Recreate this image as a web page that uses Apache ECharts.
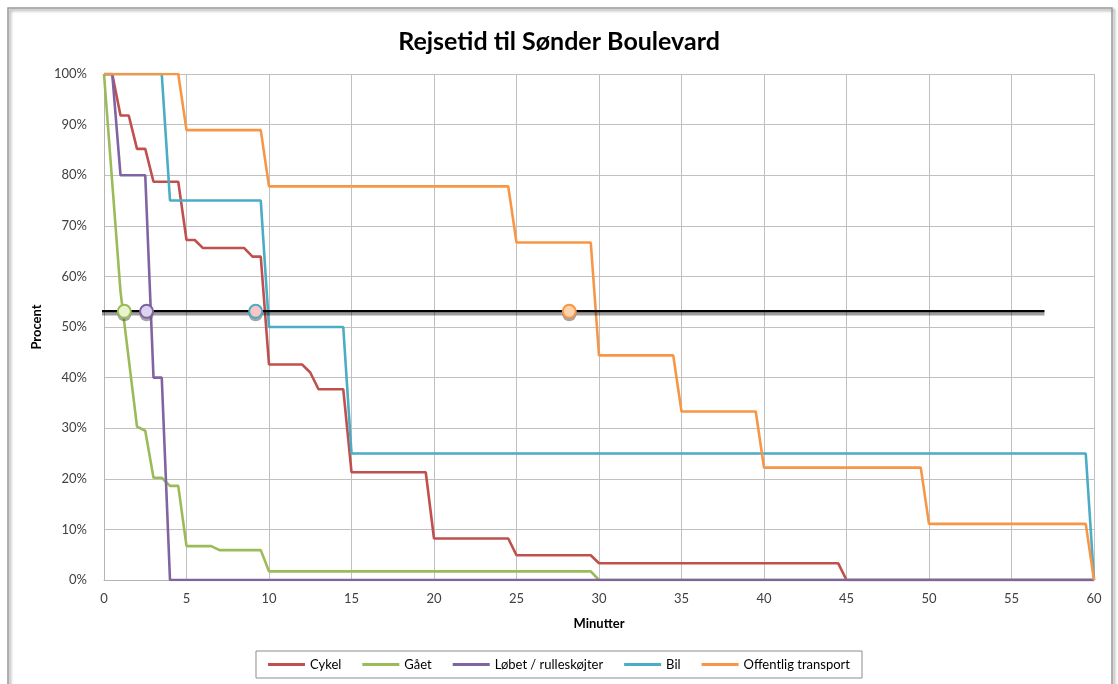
<!DOCTYPE html>
<html>
<head>
<meta charset="utf-8">
<script src="https://cdn.jsdelivr.net/npm/echarts@6/dist/echarts.min.js"></script>
<style>
html,body{margin:0;padding:0;background:#fff;}
#chart{width:1118px;height:684px;}
</style>
</head>
<body>
<div id="chart"></div>
<script>
// ---- data (minutes, percent) ----
const seriesNames = ['Cykel', 'Gået', 'Løbet / rulleskøjter', 'Bil', 'Offentlig transport'];
const cykel = [[0,100],[0.5,100],[1,91.8],[1.5,91.8],[2,85.2],[2.5,85.2],[3,78.7],[4.5,78.7],[5,67.2],[5.5,67.2],[6,65.6],[8.5,65.6],[9,63.9],[9.5,63.9],[10,42.6],[12,42.6],[12.5,41.0],[13,37.7],[14.5,37.7],[15,21.3],[19.5,21.3],[20,8.2],[24.5,8.2],[25,4.9],[29.5,4.9],[30,3.3],[44.5,3.3],[45,0],[60,0]];
const gaaet = [[0,100],[1,57],[2,30.3],[2.5,29.5],[3,20.2],[3.5,20.2],[4,18.6],[4.5,18.6],[5,6.7],[6.5,6.7],[7,5.9],[9.5,5.9],[10,1.7],[29.5,1.7],[30,0],[60,0]];
const loebet = [[0,100],[0.5,100],[1,80],[2.5,80],[3,40],[3.5,40],[4,0],[60,0]];
const bil = [[0,100],[3.5,100],[4,75],[9.5,75],[10,50],[14.5,50],[15,25],[59.5,25],[60,0]];
const offentlig = [[0,100],[4.5,100],[5,88.9],[9.5,88.9],[10,77.8],[24.5,77.8],[25,66.7],[29.5,66.7],[30,44.4],[34.5,44.4],[35,33.3],[39.5,33.3],[40,22.2],[49.5,22.2],[50,11.1],[59.5,11.1],[60,0]];
const medianLevel = 53.1;
const medianLineX = [-0.4, 57];
const medianMarkX = [1.23, 2.58, 9.19, 28.2];
const xTicks = {min: 0, max: 60, interval: 5};
const yTicks = {min: 0, max: 100, interval: 10};

const colors = ['#C0504D', '#9BBB59', '#8064A2', '#4BACC6', '#F79646'];
const markFill = ['#e8f5cc', '#dcd3ee', '#f9c6c6', '#fdd2ad'];
const markStroke = ['#9BBB59', '#8064A2', '#4BACC6', '#F79646'];
const allData = [cykel, gaaet, loebet, bil, offentlig];

const FONT = 'Lato';
const chart = echarts.init(document.getElementById('chart'), null, {renderer: 'canvas'});

const lineSeries = allData.map((d, i) => ({
  name: seriesNames[i],
  type: 'line',
  data: d,
  symbol: 'none',
  showSymbol: false,
  z: 3 + i,
  lineStyle: {color: colors[i], width: 2.6},
  itemStyle: {color: colors[i]},
  emphasis: {disabled: true},
  animation: false
}));

const option = {
  animation: false,
  color: colors,
  title: {
    text: 'Rejsetid til Sønder Boulevard',
    left: 'center',
    top: 24,
    textStyle: {fontFamily: FONT, fontWeight: 'bold', fontSize: 25, color: '#000'}
  },
  legend: {
    data: seriesNames,
    left: 'center',
    top: 651,
    icon: 'rect',
    itemWidth: 37,
    itemHeight: 3,
    itemGap: 21,
    padding: [7, 12],
    borderColor: '#8c8c8c',
    borderWidth: 1,
    textStyle: {fontFamily: FONT, fontSize: 13, color: '#000'}
  },
  grid: {left: 104, right: 24, top: 74, bottom: 104, containLabel: false},
  xAxis: {
    type: 'value',
    min: xTicks.min, max: xTicks.max, interval: xTicks.interval,
    name: 'Minutter',
    nameLocation: 'middle',
    nameGap: 37,
    nameTextStyle: {fontFamily: FONT, fontWeight: 'bold', fontSize: 13, color: '#000'},
    axisLine: {show: true, lineStyle: {color: '#b5b5b5', width: 1}},
    axisTick: {show: false},
    axisLabel: {fontFamily: FONT, fontSize: 13, color: '#404040', margin: 12},
    splitLine: {show: true, lineStyle: {color: '#c0c0c0', width: 1}}
  },
  yAxis: {
    type: 'value',
    min: yTicks.min, max: yTicks.max, interval: yTicks.interval,
    name: 'Procent',
    nameLocation: 'middle',
    nameGap: 60,
    nameTextStyle: {fontFamily: FONT, fontWeight: 'bold', fontSize: 13, color: '#000'},
    axisLine: {show: true, lineStyle: {color: '#b5b5b5', width: 1}},
    axisTick: {show: false},
    axisLabel: {fontFamily: FONT, fontSize: 13, color: '#404040', margin: 17, formatter: '{value}%'},
    splitLine: {show: true, lineStyle: {color: '#c0c0c0', width: 1}}
  },
  graphic: [{
    type: 'rect',
    shape: {x: 8, y: 8, width: 1104, height: 700},
    style: {fill: 'none', stroke: '#9a9a9a', lineWidth: 1.5,
      shadowColor: 'rgba(0,0,0,0.45)', shadowBlur: 3, shadowOffsetX: 2, shadowOffsetY: 2},
    silent: true, z: -1
  }],
  series: lineSeries.concat([
    {
      name: 'median',
      type: 'line',
      data: medianLineX.map(x => [x, medianLevel]),
      symbol: 'none',
      clip: false,
      z: 20,
      lineStyle: {color: '#000', width: 2.4, shadowColor: 'rgba(0,0,0,0.38)', shadowOffsetY: 3, shadowBlur: 0},
      emphasis: {disabled: true},
      silent: true
    },
    {
      name: 'medianMarksShadow',
      type: 'scatter',
      symbol: 'circle',
      symbolSize: 14,
      symbolOffset: [0, 3],
      z: 21,
      clip: false,
      data: medianMarkX.map(x => [x, medianLevel]),
      itemStyle: {color: 'rgba(90,90,90,0.55)', opacity: 1},
      emphasis: {disabled: true},
      silent: true
    },
    {
      name: 'medianMarks',
      type: 'scatter',
      symbol: 'circle',
      symbolSize: 13,
      z: 22,
      clip: false,
      data: medianMarkX.map((x, i) => ({
        value: [x, medianLevel],
        itemStyle: {color: markFill[i], borderColor: markStroke[i], borderWidth: 2, opacity: 1}
      })),
      emphasis: {disabled: true},
      silent: true
    }
  ])
};
chart.setOption(option);
</script>
</body>
</html>
